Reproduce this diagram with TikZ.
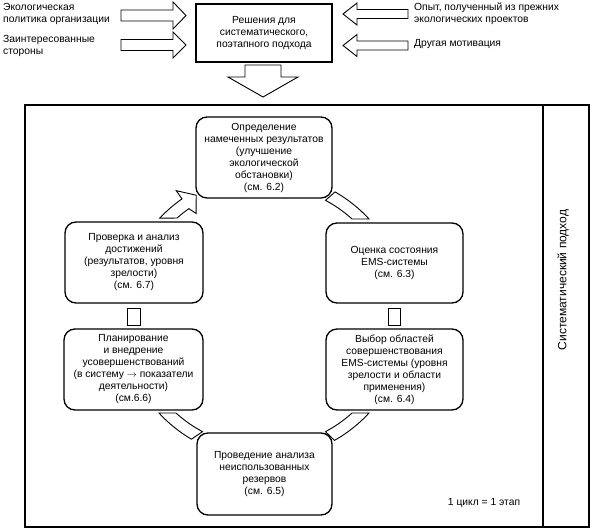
\documentclass[tikz,border=0pt]{standalone}
\usepackage{fontspec}
\setmainfont{Liberation Sans}
\usetikzlibrary{calc}
\begin{document}
\begin{tikzpicture}[x=1pt,y=1pt,
 stepbox/.style={draw, line width=1.3pt, rounded corners=11pt, fill=white, align=center, inner sep=0pt, font=\fontsize{10.3}{12}\selectfont},
 topbox/.style={draw, line width=1.3pt, fill=white, align=center, inner sep=0pt, font=\fontsize{10.3}{12}\selectfont},
 blockarrow/.style={draw, line width=0.9pt, fill=white, line join=miter},
 lbl/.style={align=left, inner sep=0pt, font=\fontsize{10.3}{12}\selectfont}]
\useasboundingbox (0,0) rectangle (592,530);
% frame
\draw[line width=1.5pt] (25,3) rectangle (589,425);
\draw[line width=1.5pt] (543,3) -- (543,425);
\node[rotate=90, inner sep=0pt, font=\fontsize{12}{14}\selectfont] (side) at (563,250) {Систематический подход};
\node[inner sep=0pt, font=\fontsize{10.3}{12}\selectfont] (cyc) at (484,27) {1 цикл = 1 этап};
% top texts
\node[lbl, anchor=west] (t1) at (3,516) {Экологическая\\политика организации};
\node[lbl, anchor=west] (t2) at (3,484) {Заинтересованные\\стороны};
\node[lbl, anchor=west] (t3) at (414,516) {Опыт, полученный из прежних\\экологических проектов};
\node[lbl, anchor=west] (t4) at (414,485.5) {Другая мотивация};
\node[topbox, minimum width=136pt, minimum height=58pt] (dec) at (264,497) {Решения для\\систематического,\\поэтапного подхода};
% input arrows
\draw[blockarrow] (121,509) -- (173,509) -- (173,501) -- (186,514.5) -- (173,528) -- (173,520) -- (121,520) -- cycle;
\draw[blockarrow] (121,479.5) -- (173,479.5) -- (173,472) -- (186,485) -- (173,498) -- (173,490.5) -- (121,490.5) -- cycle;
\draw[blockarrow] (408,511.5) -- (357,511.5) -- (357,505) -- (343,516) -- (357,527) -- (357,520.5) -- (408,520.5) -- cycle;
\draw[blockarrow] (408,480) -- (357,480) -- (357,473.5) -- (343,484.5) -- (357,495.5) -- (357,489) -- (408,489) -- cycle;
% down arrow
\draw[blockarrow] (245,465) -- (245,453) -- (228,453) -- (263,433) -- (298,453) -- (281,453) -- (281,465) -- cycle;
% cycle bands
\coordinate (C) at (264,214);
\draw[blockarrow] ($(C)+(60.2:143pt)$) arc[start angle=60.2, end angle=42.7, radius=143pt]
  -- ($(C)+(47.8:131pt)$) arc[start angle=47.8, end angle=62, radius=131pt] -- cycle;
\draw[blockarrow] ($(C)+(-42.7:143pt)$) arc[start angle=-42.7, end angle=-60.5, radius=143pt]
  -- ($(C)+(-62:131pt)$) arc[start angle=-62, end angle=-47.8, radius=131pt] -- cycle;
\draw[blockarrow] ($(C)+(239.5:143pt)$) arc[start angle=239.5, end angle=222.7, radius=143pt]
  -- ($(C)+(227.8:131pt)$) arc[start angle=227.8, end angle=242, radius=131pt] -- cycle;
\draw[blockarrow] ($(C)+(136.8:143pt)$) arc[start angle=136.8, end angle=125, radius=143pt]
  -- ($(C)+(125:153pt)$) -- ($(C)+(119.3:138.5pt)$) -- ($(C)+(123.5:123pt)$)
  -- ($(C)+(125:131pt)$) arc[start angle=125, end angle=131.6, radius=131pt] -- cycle;
% small connectors
\draw[blockarrow] (127,205) rectangle (140,222);
\draw[blockarrow] (388,205) rectangle (400,222);
% step nodes
\node[stepbox, minimum width=136pt, minimum height=81pt] (n1) at (264,372.5) {Определение\\намеченных результатов\\(улучшение\\экологической\\обстановки)\\(см. 6.2)};
\node[stepbox, minimum width=137pt, minimum height=80pt] (n2) at (394.5,267) {Оценка состояния\\EMS-системы\\(см. 6.3)};
\node[stepbox, minimum width=138pt, minimum height=81pt] (n3) at (134,267.5) {Проверка и анализ\\достижений\\(результатов, уровня\\зрелости)\\(см. 6.7)};
\node[stepbox, minimum width=139pt, minimum height=81pt] (n4) at (133.5,160.5) {Планирование\\и внедрение\\усовершенствований\\(в систему $\rightarrow$ показатели\\деятельности)\\(см.6.6)};
\node[stepbox, minimum width=137pt, minimum height=81pt] (n5) at (394.5,160.5) {Выбор областей\\совершенствования\\EMS-системы (уровня\\зрелости и области\\применения)\\(см. 6.4)};
\node[stepbox, minimum width=135pt, minimum height=82pt] (n6) at (264.5,56) {Проведение анализа\\неиспользованных\\резервов\\(см. 6.5)};
\end{tikzpicture}
\end{document}
